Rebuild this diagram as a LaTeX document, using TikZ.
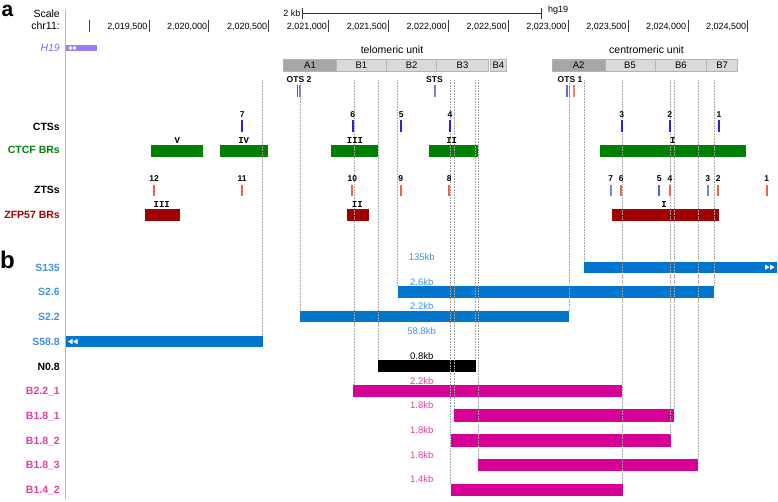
\documentclass[tikz,border=0pt]{standalone}
\usepackage{fontspec}
\setmainfont{Liberation Sans}
\setmonofont{Liberation Mono}
\usetikzlibrary{positioning}

\definecolor{sblue}{RGB}{0,119,204}
\definecolor{slabel}{RGB}{66,145,225}
\definecolor{bpink}{RGB}{214,0,150}
\definecolor{blabel}{RGB}{228,60,165}
\definecolor{ctcfgreen}{RGB}{0,128,0}
\definecolor{zfpred}{RGB}{160,0,0}
\definecolor{hpurple}{RGB}{155,125,245}
\definecolor{hlabel}{RGB}{135,100,240}
\definecolor{ctsblue}{RGB}{35,35,230}
\definecolor{ztsred}{RGB}{245,95,75}
\definecolor{ztsblue}{RGB}{125,125,230}
\definecolor{guidegrey}{RGB}{165,165,165}
\definecolor{adark}{RGB}{166,166,166}
\definecolor{blight}{RGB}{217,217,217}
\definecolor{segedge}{RGB}{180,180,180}
\definecolor{axisgrey}{RGB}{185,185,205}

\begin{document}
\begin{tikzpicture}[x=1pt, y=-1pt,
    lab/.style={anchor=east, inner sep=0pt, font=\bfseries\fontsize{10.5}{12}\selectfont},
    num/.style={inner sep=0pt, font=\bfseries\fontsize{8.5}{10}\selectfont},
    roman/.style={inner sep=0pt, font=\ttfamily\bfseries\fontsize{9}{10}\selectfont},
    size/.style={inner sep=0pt, font=\fontsize{9.5}{11}\selectfont},
    coord/.style={anchor=east, inner sep=0pt, font=\fontsize{9}{10}\selectfont},
    seg/.style={draw=segedge, line width=0.5pt, minimum height=12pt, inner sep=0pt, font=\fontsize{9.5}{11}\selectfont},
    guide/.style={draw=guidegrey, densely dotted, line width=0.6pt},
    tss/.style={line width=1.7pt}]
	\useasboundingbox (0,0) rectangle (778,501);

	% panel letters
	\node[font=\bfseries\fontsize{21}{23}\selectfont, inner sep=0pt] (pa) at (7.5,10.5) {a};
	\node[font=\bfseries\fontsize{24}{26}\selectfont, inner sep=0pt] (pb) at (7.5,260) {b};

	% left axis
	\draw[axisgrey, line width=0.9pt] (65.7,10) -- (65.7,499);

	% scale and coordinates
	\node[anchor=east, inner sep=0pt, font=\fontsize{10.5}{12}\selectfont] (scale) at (60,14) {Scale};
	\node[anchor=east, inner sep=0pt, font=\fontsize{10.5}{12}\selectfont] (chr) at (60,26) {chr11:};
	\draw[black!80, line width=0.6pt] (302,8) -- (302,19) (302,13) -- (541,13) (541,8) -- (541,19);
	\node[anchor=east, inner sep=0pt, font=\fontsize{9}{10}\selectfont] (kb) at (300.5,13) {2 kb};
	\node[anchor=west, inner sep=0pt, font=\fontsize{9}{10}\selectfont] (hg) at (548,10) {hg19};
	\draw[black!75, line width=0.8pt] (89,20) -- (89,32);
	\foreach \i/\t in {0/{2,019,500}, 1/{2,020,000}, 2/{2,020,500}, 3/{2,021,000}, 4/{2,021,500},
	    5/{2,022,000}, 6/{2,022,500}, 7/{2,023,000}, 8/{2,023,500}, 9/{2,024,000}, 10/{2,024,500}} {
		\draw[black!75, line width=0.8pt] (149+\i*59.88,20) -- (149+\i*59.88,32);
		\node[coord] at (147.5+\i*59.88,26.5) {\t};
	}

	% H19
	\node[anchor=east, inner sep=0pt, font=\itshape\fontsize{10.5}{12}\selectfont, text=hlabel] (h19) at (60,48) {H19};
	\fill[hpurple] (66,45) rectangle (97,51);
	\fill[white] (68,48) -- (71.5,45.8) -- (71.5,50.2) -- cycle (72,48) -- (75.5,45.8) -- (75.5,50.2) -- cycle;

	% units
	\node[inner sep=0pt, font=\fontsize{10.5}{12}\selectfont] (telo) at (392,50) {telomeric unit};
	\node[inner sep=0pt, font=\fontsize{10.5}{12}\selectfont] (centro) at (646.5,50) {centromeric unit};
	\node[seg, fill=adark, minimum width=53.4pt] (A1) at (310,65) {A1};
	\node[seg, fill=blight, minimum width=49.3pt] (B1) at (361.35,65) {B1};
	\node[seg, fill=blight, minimum width=50pt] (B2) at (411.7,65) {B2};
	\node[seg, fill=blight, minimum width=51.6pt] (B3) at (462.5,65) {B3};
	\node[seg, fill=blight, minimum width=16.7pt] (B4) at (498.35,65) {B4};
	\node[seg, fill=adark, minimum width=52.7pt] (A2) at (578.65,65) {A2};
	\node[seg, fill=blight, minimum width=50pt] (B5) at (630,65) {B5};
	\node[seg, fill=blight, minimum width=51.7pt] (B6) at (680.85,65) {B6};
	\node[seg, fill=blight, minimum width=31pt] (B7) at (722.2,65) {B7};

	% binding regions
	\foreach \a/\b in {150.7/202.7, 220/268.3, 331/378.3, 429/477.7, 600/746.3} {
		\fill[ctcfgreen] (\a,145) rectangle (\b,157);
	}
	\fill[zfpred] (145,209) rectangle (180.3,220.7);
	\fill[zfpred] (346.7,209) rectangle (369.3,220.7);
	\fill[zfpred] (612.3,209) rectangle (719.3,220.7);

	% constructs
	\fill[sblue] (584,261.7) rectangle (776.7,272.7);
	\fill[white] (774.5,267.2) -- (770,264.5) -- (770,269.9) -- cycle (769.5,267.2) -- (765,264.5) -- (765,269.9) -- cycle;
	\fill[sblue] (397.7,286) rectangle (714.3,297.7);
	\fill[sblue] (300,310.7) rectangle (569.3,322.3);
	\fill[sblue] (65.7,335.7) rectangle (262.7,347.3);
	\fill[white] (68,341.5) -- (72.5,338.8) -- (72.5,344.2) -- cycle (73,341.5) -- (77.5,338.8) -- (77.5,344.2) -- cycle;
	\fill[black] (378.3,360) rectangle (476,371.7);
	\fill[bpink] (353.3,385) rectangle (622.3,396.7);
	\fill[bpink] (454,409.3) rectangle (674.3,421.7);
	\fill[bpink] (451,434.3) rectangle (671,446.7);
	\fill[bpink] (478.3,459) rectangle (698.3,470.7);
	\fill[bpink] (451,484) rectangle (622.7,495.7);

	% guide lines
	\foreach \x/\a/\b in {262.3/80/335.7, 300/83/310.7, 354/80/385, 378.3/80/360, 397.7/80/286,
	    450.7/80/484, 454/80/409.3, 475.5/80/360, 478.3/80/459, 569/83/310.7, 584/80/261.7,
	    622.3/80/484, 670/80/434.3, 674/80/409.3, 698.3/80/459, 714/80/286} {
		\draw[guide] (\x,\a) -- (\x,\b);
	}

	% OTS and STS
	\node[num] (ots2) at (299,80) {OTS 2};
	\node[num] (sts) at (434.5,80) {STS};
	\node[num] (ots1) at (570,80) {OTS 1};
	\draw[tss, ctsblue!80] (297.6,85) -- (297.6,97);
	\draw[tss, ztsblue] (300,85) -- (300,97);
	\draw[tss, ztsblue] (435,85) -- (435,97);
	\draw[tss, ctsblue!70] (567.3,85) -- (567.3,97);
	\draw[tss, ztsblue] (569.5,85) -- (569.5,97);
	\draw[tss, ztsred!80] (574,85) -- (574,97);

	% CTSs
	\node[lab] (ctss) at (60,127) {CTSs};
	\foreach \x/\n in {242.3/7, 352.7/6, 401.3/5, 450/4, 621.7/3, 669.7/2, 719/1} {
		\node[num] at (\x,114.5) {\n};
		\draw[tss, ctsblue] (\x,120) -- (\x,132);
	}

	% CTCF BRs
	\node[lab, text=ctcfgreen] (ctcf) at (60,150) {CTCF BRs};
	\foreach \x/\r in {177.3/V, 243.7/IV, 355/III, 451.7/II, 672.7/I} {
		\node[roman] at (\x,140.5) {\r};
	}

	% ZTSs
	\node[lab] (ztss) at (60,189.5) {ZTSs};
	\foreach \x/\n/\c in {154/12/ztsred, 242/11/ztsred, 352.3/10/ztsred, 400.7/9/ztsred, 449.3/8/ztsred,
	    610.7/7/ztsblue, 621.3/6/ztsred, 659.3/5/ctsblue!75, 670/4/ztsred, 707.7/3/ztsblue, 718.3/2/ztsred, 766.7/1/ztsred} {
		\node[num] at (\x,179) {\n};
		\draw[tss, \c] (\x,184.5) -- (\x,196);
	}

	% ZFP57 BRs
	\node[lab, text=zfpred] (zfp) at (60,215) {ZFP57 BRs};
	\foreach \x/\r in {161.7/III, 357.3/II, 664/I} {
		\node[roman] at (\x,204.5) {\r};
	}

	% row labels b
	\node[lab, text=slabel] (s135) at (60,268) {S135};
	\node[lab, text=slabel] (s26) at (60,292) {S2.6};
	\node[lab, text=slabel] (s22) at (60,317) {S2.2};
	\node[lab, text=slabel] (s588) at (60,342) {S58.8};
	\node[lab] (n08) at (60,366.5) {N0.8};
	\node[lab, text=blabel] (b221) at (60,391) {B2.2\_1};
	\node[lab, text=blabel] (b181) at (60,416) {B1.8\_1};
	\node[lab, text=blabel] (b182) at (60,441) {B1.8\_2};
	\node[lab, text=blabel] (b183) at (60,465.5) {B1.8\_3};
	\node[lab, text=blabel] (b142) at (60,490) {B1.4\_2};

	% sizes
	\foreach \y/\t in {256.7/135kb, 281.7/2.6kb, 306/2.2kb, 330.7/58.8kb} {
		\node[size, text=slabel] at (421.7,\y) {\t};
	}
	\node[size] (l08) at (421.7,355.7) {0.8kb};
	\foreach \y/\t in {380.7/2.2kb, 405/1.8kb, 430/1.8kb, 454.7/1.8kb, 479/1.4kb} {
		\node[size, text=blabel] at (421.7,\y) {\t};
	}
\end{tikzpicture}
\end{document}
